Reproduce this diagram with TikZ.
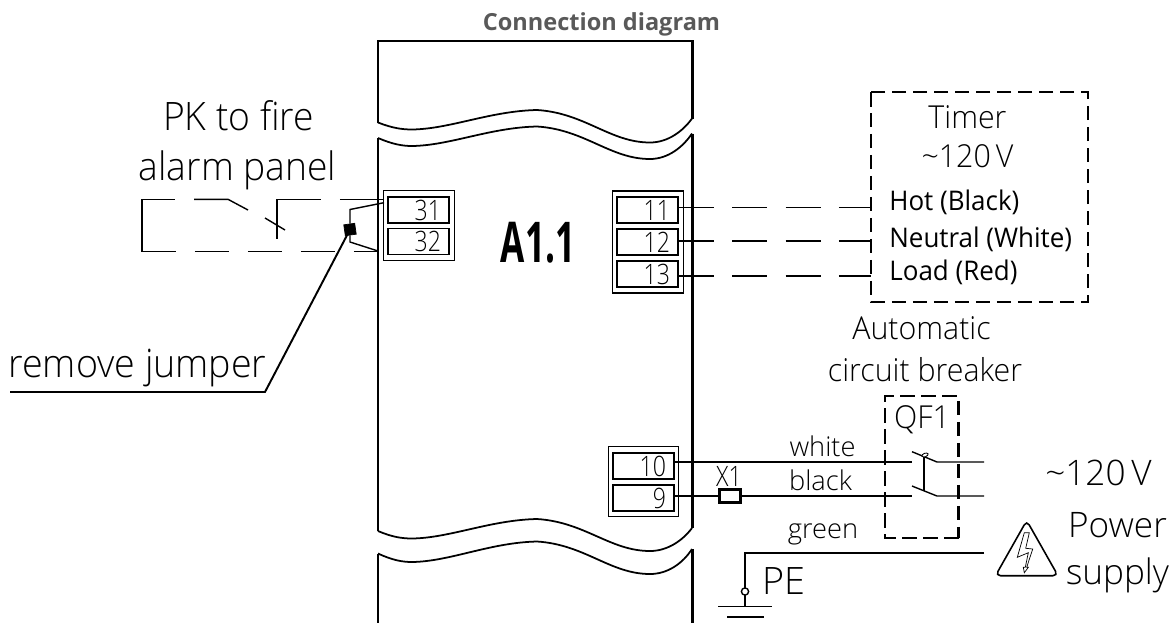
\documentclass[tikz,border=0pt]{standalone}
\usepackage{fontspec}
\usetikzlibrary{shapes.geometric}
\setmainfont{Open Sans Light}
\newfontfamily\regfont{Open Sans}
\newfontfamily\numfont{Open Sans Light}[FakeStretch=0.82]
\definecolor{titlegray}{HTML}{595959}
\tikzset{
  wire/.style={line width=0.8pt},
  cutwire/.style={wire, dash pattern=on 0.7cm off 0.366cm},
  panel/.style={line width=1.7pt},
  wave/.style={line width=1pt},
  termblock/.style={draw, line width=0.7pt, inner sep=0pt, minimum width=1.41cm},
  termbox/.style={draw, line width=1.1pt, fill=white, inner sep=0pt, minimum width=1.22cm,
    minimum height=0.52cm, text width=0.9cm, align=right, font=\numfont\fontsize{16}{16}\selectfont},
  bigtext/.style={font=\fontsize{22.3}{22.3}\selectfont, inner sep=0pt, xscale=0.95},
  powertext/.style={font=\fontsize{20}{20}\selectfont, inner sep=0pt},
  midtext/.style={font=\fontsize{18}{18}\selectfont, inner sep=0pt, xscale=0.96},
  smalltext/.style={font=\fontsize{15.5}{15.5}\selectfont, inner sep=0pt},
  timertext/.style={font=\regfont\fontsize{15.4}{15.4}\selectfont, inner sep=0pt, anchor=west, xscale=0.96},
  dashbox/.style={line width=1.2pt, dash pattern=on 0.29cm off 0.13cm},
}
\begin{document}
\begin{tikzpicture}[x=0.02cm,y=-0.02cm]
  \useasboundingbox (0,0) rectangle (1176,623);

  \node [font=\regfont\bfseries\fontsize{13.4}{13.4}\selectfont, text=titlegray, inner sep=0pt] (title) at (601.5,24) {Connection diagram};

  % housing
  \draw [panel] (378,122.5) -- (378,41) -- (692,41) -- (692,118.5);
  \draw [panel] (378,138) -- (378,531) (692,133.5) -- (692,528);
  \draw [panel] (378,553.5) -- (378,623) (692,549) -- (692,623);
  \draw [wave] (378,122.5) .. controls (392,128) and (402,129.5) .. (412,129.5)
    .. controls (450,129) and (490,111) .. (537,110)
    .. controls (585,113) and (610,142.5) .. (650,142.5)
    .. controls (668,142.5) and (683,131) .. (692,118.5);
  \draw [wave] (378,138) .. controls (392,144) and (402,146) .. (412,146)
    .. controls (450,145.5) and (490,127.5) .. (537,126.5)
    .. controls (585,129.5) and (610,159) .. (650,159)
    .. controls (668,159) and (683,147) .. (692,133.5);
  \draw [wave] (378,531) .. controls (392,537) and (402,538.5) .. (412,538.5)
    .. controls (450,538) and (490,520) .. (537,519)
    .. controls (585,522) and (610,551) .. (650,551)
    .. controls (668,551) and (683,540) .. (692,528);
  \draw [wave] (378,553.5) .. controls (392,560) and (402,562) .. (412,562)
    .. controls (450,561.5) and (490,542.5) .. (537,541.5)
    .. controls (585,544.5) and (610,574) .. (650,574)
    .. controls (668,574) and (683,563) .. (692,549);

  \node [font=\regfont\bfseries\fontsize{32}{32}\selectfont, xscale=0.624, inner sep=0pt] (name) at (538,243) {A1.1};

  % terminals
  \node [termblock, minimum height=1.4cm] (blockA) at (419,225.7) {};
  \node [termbox] (t31) at (418.5,210) {31};
  \node [termbox] (t32) at (418.5,241.5) {32};
  \node [termblock, minimum height=2.04cm] (blockB) at (648,242) {};
  \node [termbox] (t11) at (647.5,210) {11};
  \node [termbox] (t12) at (647.5,242) {12};
  \node [termbox] (t13) at (647.5,274) {13};
  \node [termblock, minimum height=1.4cm] (blockC) at (643.5,481.7) {};
  \node [termbox] (t10) at (643.5,466) {10};
  \node [termbox] (t9) at (643.5,498) {9};

  % timer
  \draw [dashbox] (871,92) rectangle (1088,302);
  \node [midtext] (timer) at (967.5,117) {Timer};
  \node [midtext] (vtimer) at (967.5,156) {\textasciitilde120\,V};
  \node [timertext] (hot) at (889,202) {Hot (Black)};
  \node [timertext] (neutral) at (889,239) {Neutral (White)};
  \node [timertext] (load) at (889,272) {Load (Red)};
  \coordinate (h) at (871,207.7);
  \coordinate (n) at (871,241);
  \coordinate (l) at (871,276);
  \draw [cutwire] (t11.east |- h) -- (h);
  \draw [cutwire] (t12.east |- n) -- (n);
  \draw [cutwire] (t13.east |- l) -- (l);

  % fire alarm loop
  \node [bigtext] (pk) at (238.5,116) {PK to fire};
  \node [bigtext] (alarm) at (237.5,170) {alarm panel};
  \coordinate (c1) at (142,199.3);
  \coordinate (c2) at (142,251.7);
  \coordinate (c3) at (228,199.3);
  \coordinate (c4) at (277,199.3);
  \coordinate (c5) at (384,199.3);
  \coordinate (c6) at (378,251.7);
  \draw [wire, dash pattern=on 0.88cm off 0.38cm] (c4) -- (c5);
  \draw [wire] (c4) -- (277,239);
  \draw [wire] (265,218) -- (285,230);
  \draw [wire, dash pattern=on 0.68cm off 0.38cm] (c2) -- (c6);
  \draw [wire] (c2) -- (c1) -- (175,199.3);
  \draw [wire] (194,199.3) -- (c3) -- (248,210);

  % jumper
  \node [draw, fill=black, minimum size=0.22cm, inner sep=0pt, rotate=8] (jumper) at (350,229.5) {};
  \coordinate (j1) at (384,202.7);
  \coordinate (j2) at (350,209.5);
  \coordinate (j3) at (350,242);
  \coordinate (j4) at (378,251);
  \draw [wire] (j1) -- (j2) -- (jumper);
  \draw [wire] (jumper) -- (j3) -- (j4);
  \node [bigtext, xscale=1.01] (remove) at (137.5,368) {remove jumper};
  \coordinate (lead) at (265,392);
  \coordinate (leadend) at (10,392);
  \draw [line width=1.1pt] (jumper.center) -- (lead) -- (leadend);

  % breaker
  \node [midtext] (auto) at (921.5,328.5) {Automatic};
  \node [midtext] (circ) at (925,370) {circuit breaker};
  \node [midtext] (qf) at (922,420) {QF1};
  \draw [dashbox] (958.5,538) -- (885,538) -- (885,396) -- (958.5,396) -- cycle;
  \coordinate (a1) at (912,462);
  \coordinate (a2) at (937,462);
  \coordinate (a3) at (984,462);
  \coordinate (b1) at (912,496);
  \coordinate (b2) at (937,496);
  \coordinate (b3) at (984,496);
  \draw [wire] (t10.east |- a1) -- (a1);
  \draw [wire] (912,451.7) -- (a2) -- (a3);
  \draw [wire] (912,486) -- (b2) -- (b3);
  \draw [wire] (924,456) -- (924,491);
  \node [draw, fill=white, line width=0.5pt, ellipse, minimum width=0.13cm, minimum height=0.07cm, inner sep=0pt, rotate=20] (knob) at (925,455) {};
  \node [rectangle, draw, line width=1.7pt, fill=white, minimum width=0.42cm, minimum height=0.26cm, inner sep=0pt] (x1) at (729.7,496) {};
  \draw [wire] (t9.east |- b1) -- (x1);
  \draw [wire] (x1) -- (b1);
  \node [font=\numfont\fontsize{16}{16}\selectfont, inner sep=0pt] (x1label) at (729,476.5) {X1};
  \node [smalltext] (white) at (822.5,446) {white};
  \node [smalltext] (black) at (820.5,480) {black};
  \node [smalltext] (green) at (823,534) {green};
  \node [powertext] (v) at (1098.5,472.5) {\textasciitilde120\,V};

  % earth
  \coordinate (pe) at (745,553);
  \coordinate (pe2) at (984,553);
  \coordinate (gnd) at (745,606.5);
  \draw [wire] (pe2) -- (pe) -- (gnd);
  \draw [wire, fill=white] (745,591.5) circle (3.6);
  \draw [wire] (718,606.5) -- (772,606.5);
  \draw [wire] (727,617) -- (764,617);
  \node [font=\fontsize{21.5}{21.5}\selectfont, inner sep=0pt] (pelabel) at (784,581.5) {PE};

  % warning sign
  \draw [line width=0.9pt, rounded corners=0.1cm] (1026.7,520.5) -- (1058,575.7) -- (995.5,575.7) -- cycle;
  \draw [line width=0.4pt] (1024.3,532.7) -- (1029.3,532.7) -- (1025.7,548.3) -- (1032.7,549) -- (1026.7,567.3) -- (1028.3,567.3) -- (1024.3,572.7) -- (1023.3,567.3) -- (1025.3,567.3) -- (1028.3,552.7) -- (1017.3,557.3) -- cycle;
  \node [powertext] (power) at (1117.5,525.5) {Power};
  \node [powertext] (supply) at (1117.5,575.5) {supply};
\end{tikzpicture}
\end{document}
